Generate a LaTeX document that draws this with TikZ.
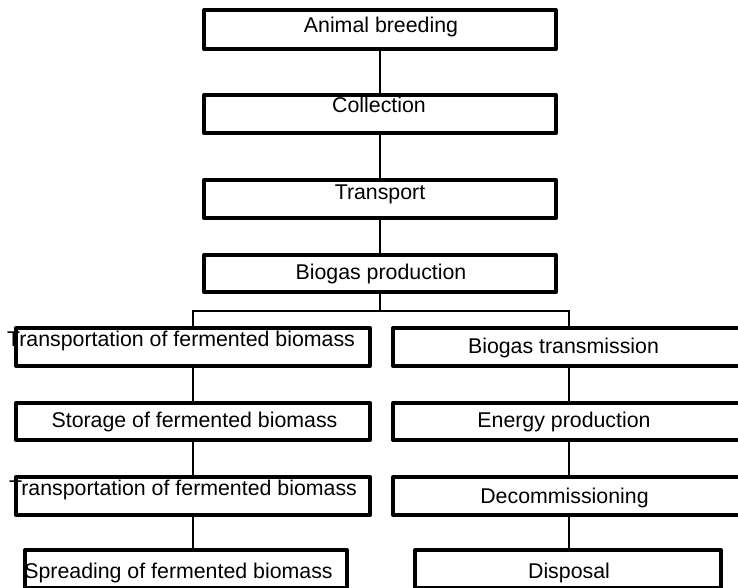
\documentclass[tikz,border=0pt]{standalone}
\usepackage{fontspec}
\setmainfont{Liberation Sans}
\begin{document}
\begin{tikzpicture}[x=0.75pt,y=-0.75pt,
  box/.style={draw, line width=3pt, fill=white, inner sep=0pt, line join=round},
  conn/.style={line width=1.1pt},
  lbl/.style={anchor=base, inner sep=0pt, font=\fontsize{16}{19}\selectfont}]
\useasboundingbox (0,0) rectangle (738,588);
\clip (0,0) rectangle (738,588);
% boxes
\node[box, minimum width=264pt, minimum height=29.25pt] (A) at (380,29.5) {};
\node[box, minimum width=264pt, minimum height=28.5pt] (B) at (380,114) {};
\node[box, minimum width=264pt, minimum height=28.5pt] (C) at (380,199) {};
\node[box, minimum width=264pt, minimum height=27.75pt] (D) at (380,273.5) {};
\node[box, minimum width=265.5pt, minimum height=28.5pt] (L1) at (193,347) {};
\node[box, minimum width=265.5pt, minimum height=27.75pt] (L2) at (193,421.5) {};
\node[box, minimum width=265.5pt, minimum height=28.5pt] (L3) at (193,496) {};
\node[box, minimum width=241.5pt, minimum height=28.5pt] (L4) at (186,569) {};
\node[box, minimum width=264pt, minimum height=28.5pt] (R1) at (569,347) {};
\node[box, minimum width=264pt, minimum height=27.75pt] (R2) at (569,421.5) {};
\node[box, minimum width=264pt, minimum height=28.5pt] (R3) at (569,496) {};
\node[box, minimum width=229.5pt, minimum height=28.5pt] (R4) at (568,569) {};
% connectors
\draw[conn] (A.south) -- (B.north);
\draw[conn] (B.south) -- (C.north);
\draw[conn] (C.south) -- (D.north);
\coordinate (bus) at (380,311);
\draw[conn] (D.south) -- (bus);
\draw[conn] (L1.north) |- (bus) -| (R1.north);
\draw[conn] (L1.south) -- (L2.north);
\draw[conn] (L2.south) -- (L3.north);
\draw[conn] (L3.south) -- (L3.south |- L4.north);
\draw[conn] (R1.south) -- (R2.north);
\draw[conn] (R2.south) -- (R3.north);
\draw[conn] (R3.south) -- (R3.south |- R4.north);
% labels
\node[lbl] (tA) at (381,33) {Animal breeding};
\node[lbl] (tB) at (379,113) {Collection};
\node[lbl] (tC) at (380,199) {Transport};
\node[lbl] (tD) at (381,279) {Biogas production};
\node[lbl] (tL1) at (181,346) {Transportation of fermented biomass};
\node[lbl] (tL2) at (194.5,427) {Storage of fermented biomass};
\node[lbl] (tL3) at (183,495) {Transportation of fermented biomass};
\node[lbl] (tL4) at (178.5,578) {Spreading of fermented biomass};
\node[lbl] (tR1) at (563.5,353) {Biogas transmission};
\node[lbl] (tR2) at (564,427) {Energy production};
\node[lbl] (tR3) at (564.5,503) {Decommissioning};
\node[lbl] (tR4) at (569,578) {Disposal};
\end{tikzpicture}
\end{document}
